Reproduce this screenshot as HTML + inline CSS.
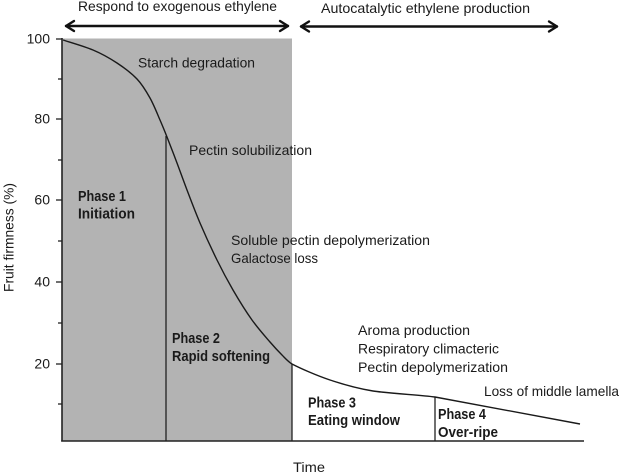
<!DOCTYPE html>
<html><head><meta charset="utf-8"><style>
html,body{margin:0;padding:0;background:#fff;}
svg{display:block;}
text{font-family:"Liberation Sans",sans-serif;font-size:14px;fill:#1a1a1a;}
.b{font-weight:bold;font-size:15px;}
</style></head><body>
<svg width="620" height="473" viewBox="0 0 620 473" xmlns="http://www.w3.org/2000/svg">
<rect x="62" y="38.5" width="230" height="402.5" fill="#b3b3b3"/>
<!-- axes -->
<line x1="62" y1="38" x2="62" y2="441.5" stroke="#222" stroke-width="1.6"/>
<line x1="61.2" y1="441" x2="584" y2="441" stroke="#222" stroke-width="1.6"/>
<g stroke="#222" stroke-width="1.3">
<line x1="56" y1="39" x2="62" y2="39"/>
<line x1="58" y1="79" x2="62" y2="79"/>
<line x1="56" y1="119" x2="62" y2="119"/>
<line x1="58" y1="160" x2="62" y2="160"/>
<line x1="56" y1="200" x2="62" y2="200"/>
<line x1="58" y1="241" x2="62" y2="241"/>
<line x1="56" y1="282" x2="62" y2="282"/>
<line x1="58" y1="323" x2="62" y2="323"/>
<line x1="56" y1="364" x2="62" y2="364"/>
<line x1="58" y1="404" x2="62" y2="404"/>
</g>
<g text-anchor="end">
<text x="50" y="43.5">100</text>
<text x="50" y="123.5">80</text>
<text x="50" y="204.5">60</text>
<text x="50" y="286.5">40</text>
<text x="50" y="368.5">20</text>
</g>
<text transform="translate(13.5,292) rotate(-90)" textLength="109" lengthAdjust="spacingAndGlyphs">Fruit firmness (%)</text>
<!-- vertical phase lines -->
<g stroke="#222" stroke-width="1.3">
<line x1="166" y1="136" x2="166" y2="441"/>
<line x1="292" y1="364" x2="292" y2="441"/>
<line x1="435" y1="397" x2="435" y2="441"/>
</g>
<!-- curve -->
<path fill="none" stroke="#1a1a1a" stroke-width="1.4" d="M63,40 C68,41.7 84,46.2 93,50 C102,53.8 109.7,58.2 117,63 C124.3,67.8 131.5,73.2 137,79 C142.5,84.8 146.2,91.2 150,98 C153.8,104.8 157.2,113.5 160,120 C162.8,126.5 164.2,129.8 167,137 C169.8,144.2 173.7,154.2 177,163 C180.3,171.8 183.2,180 187,190 C190.8,200 195,211.3 200,223 C205,234.7 211.5,248.8 217,260 C222.5,271.2 227.2,280 233,290 C238.8,300 245.8,311.3 252,320 C258.2,328.7 265,336.2 270,342 C275,347.8 278.3,351.3 282,355 C285.7,358.7 288,361.5 292,364 C300,368.2 316.5,375.5 330,380 C343.5,384.5 355.5,388.2 373,391 C390,393.5 420,395 435,397 L580,424"/>
<!-- arrows -->
<g stroke="#111" stroke-width="2.4" fill="none" stroke-linecap="round" stroke-linejoin="round">
<line x1="66" y1="26" x2="288" y2="26"/>
<polyline points="74,21 66,26 74,31"/>
<polyline points="280,21 288,26 280,31"/>
<line x1="301" y1="26.5" x2="557" y2="26.5"/>
<polyline points="309,21.5 301,26.5 309,31.5"/>
<polyline points="549,21.5 557,26.5 549,31.5"/>
</g>
<!-- labels -->
<text x="78" y="11" textLength="199" lengthAdjust="spacingAndGlyphs">Respond to exogenous ethylene</text>
<text x="321" y="13" textLength="209" lengthAdjust="spacingAndGlyphs">Autocatalytic ethylene production</text>
<text x="138" y="67.5" textLength="117" lengthAdjust="spacingAndGlyphs">Starch degradation</text>
<text x="189" y="155" textLength="123" lengthAdjust="spacingAndGlyphs">Pectin solubilization</text>
<text class="b" x="78" y="201" textLength="48" lengthAdjust="spacingAndGlyphs">Phase 1</text>
<text class="b" x="78" y="218.5" textLength="57" lengthAdjust="spacingAndGlyphs">Initiation</text>
<text x="231" y="245" textLength="199" lengthAdjust="spacingAndGlyphs">Soluble pectin depolymerization</text>
<text x="231" y="263" textLength="87" lengthAdjust="spacingAndGlyphs">Galactose loss</text>
<text class="b" x="172" y="343" textLength="48" lengthAdjust="spacingAndGlyphs">Phase 2</text>
<text class="b" x="172" y="361" textLength="98" lengthAdjust="spacingAndGlyphs">Rapid softening</text>
<text x="358" y="335" textLength="112" lengthAdjust="spacingAndGlyphs">Aroma production</text>
<text x="358" y="353.5" textLength="141" lengthAdjust="spacingAndGlyphs">Respiratory climacteric</text>
<text x="358" y="372" textLength="150" lengthAdjust="spacingAndGlyphs">Pectin depolymerization</text>
<text x="484" y="396" textLength="135" lengthAdjust="spacingAndGlyphs">Loss of middle lamella</text>
<text class="b" x="308" y="407.5" textLength="48" lengthAdjust="spacingAndGlyphs">Phase 3</text>
<text class="b" x="308" y="425" textLength="92" lengthAdjust="spacingAndGlyphs">Eating window</text>
<text class="b" x="438" y="419" textLength="48" lengthAdjust="spacingAndGlyphs">Phase 4</text>
<text class="b" x="438" y="437" textLength="60" lengthAdjust="spacingAndGlyphs">Over-ripe</text>
<text x="293" y="472" textLength="32" lengthAdjust="spacingAndGlyphs">Time</text>
</svg>
</body></html>
